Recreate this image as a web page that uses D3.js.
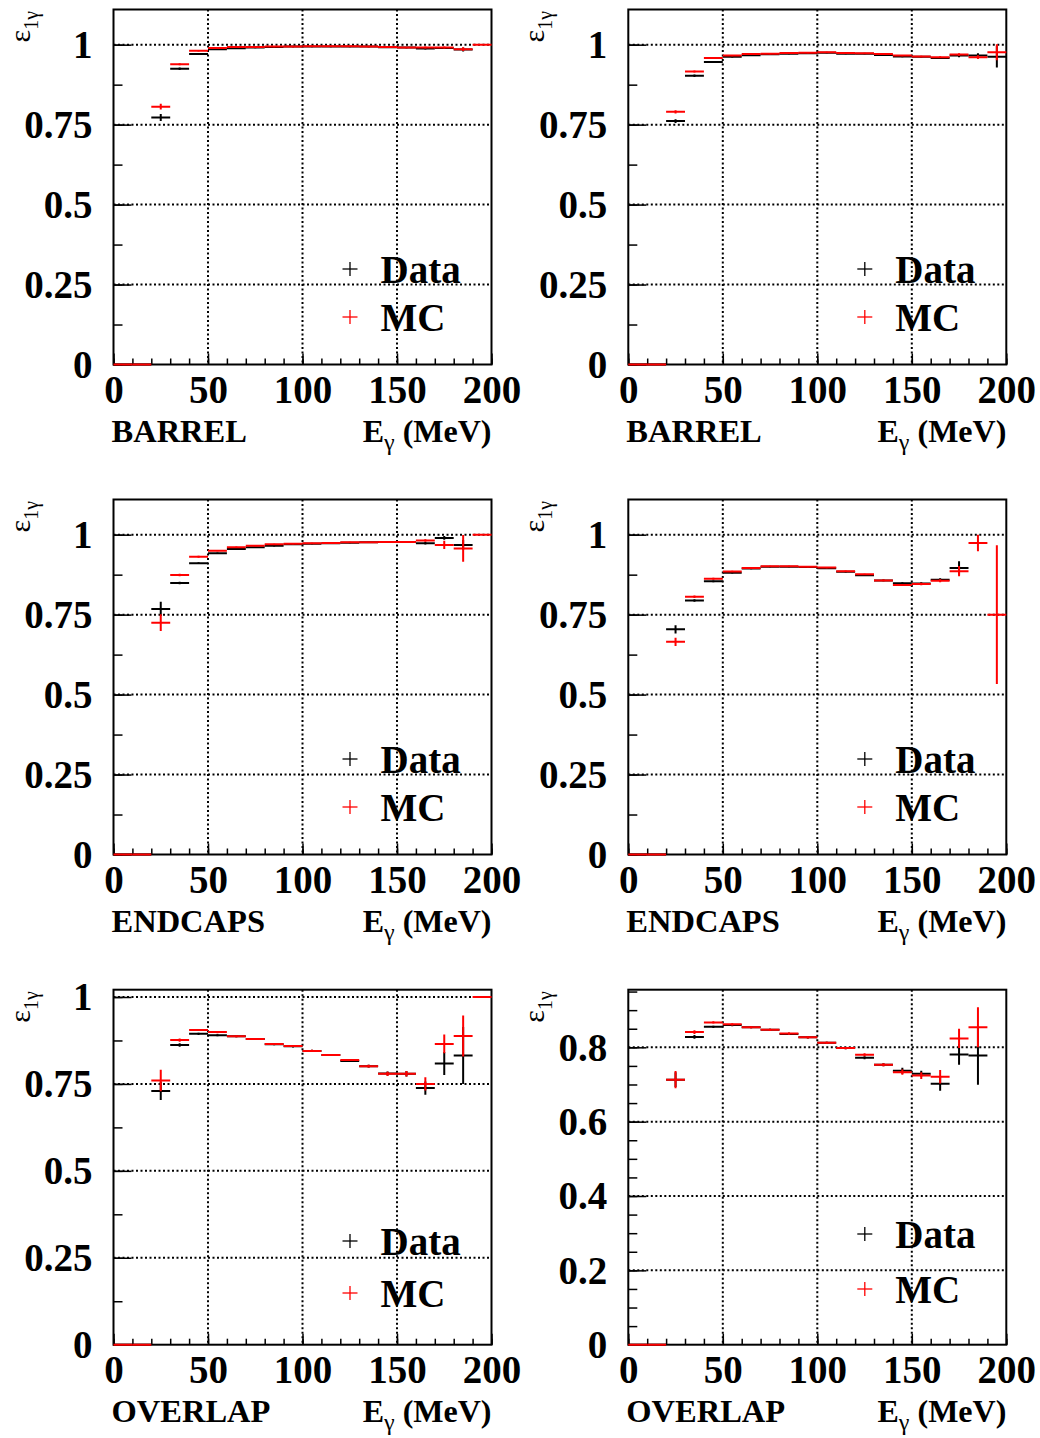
<!DOCTYPE html>
<html>
<head>
<meta charset="utf-8">
<script src="https://cdn.jsdelivr.net/npm/d3@7"></script>
<style>
  body { margin: 0; background: #fff; }
  svg { display: block; }
  text { font-family: "Liberation Serif", "Times New Roman", serif; }
</style>
</head>
<body>
<svg id="chart" width="1040" height="1438"></svg>
<script>
// Photon energy bins (MeV): lower edges, 10 MeV wide
const binLowEdges = [0, 10, 20, 30, 40, 50, 60, 70, 80, 90, 100, 110, 120, 130, 140, 150, 160, 170, 180, 190];
const binWidth = 10;

// Single-photon efficiency per bin, data (black) and MC (red), with errors
const barrelAData    = [0, 0, 0.772, 0.925, 0.971, 0.986, 0.989, 0.991, 0.993, 0.994, 0.994, 0.994, 0.994, 0.994, 0.992, 0.991, 0.988, 0.990, 0.985, null];
const barrelADataErr = [0, 0, 0.011, 0.004, 0.003, 0.002, 0.002, 0.002, 0.002, 0.002, 0.002, 0.002, 0.002, 0.002, 0.002, 0.002, 0.003, 0.003, 0.006, 0];
const barrelAMC      = [0, 0, 0.806, 0.939, 0.981, 0.990, 0.993, 0.993, 0.994, 0.994, 0.995, 0.995, 0.995, 0.994, 0.993, 0.991, 0.991, 0.991, 0.986, 1.0];
const barrelAMCErr   = [0, 0, 0.009, 0.003, 0.002, 0.002, 0.002, 0.002, 0.002, 0.002, 0.002, 0.002, 0.002, 0.002, 0.002, 0.002, 0.003, 0.003, 0.006, 0];

const barrelBData    = [0, 0, 0.761, 0.903, 0.946, 0.962, 0.967, 0.970, 0.972, 0.973, 0.975, 0.972, 0.972, 0.968, 0.963, 0.962, 0.958, 0.966, 0.966, 0.962];
const barrelBDataErr = [0, 0, 0.006, 0.004, 0.003, 0.002, 0.002, 0.002, 0.002, 0.002, 0.002, 0.002, 0.002, 0.002, 0.002, 0.002, 0.003, 0.005, 0.007, 0.033];
const barrelBMC      = [0, 0, 0.790, 0.916, 0.958, 0.966, 0.971, 0.972, 0.974, 0.975, 0.976, 0.974, 0.973, 0.971, 0.966, 0.963, 0.961, 0.969, 0.961, 0.976];
const barrelBMCErr   = [0, 0, 0.005, 0.003, 0.002, 0.002, 0.002, 0.002, 0.002, 0.002, 0.002, 0.002, 0.002, 0.002, 0.002, 0.002, 0.003, 0.004, 0.006, 0.025];

const endcapAData    = [0, 0, 0.768, 0.849, 0.911, 0.942, 0.955, 0.961, 0.965, 0.970, 0.972, 0.973, 0.975, 0.976, 0.977, 0.977, 0.973, 0.990, 0.968, null];
const endcapADataErr = [0, 0, 0.022, 0.004, 0.003, 0.002, 0.002, 0.002, 0.002, 0.002, 0.002, 0.002, 0.002, 0.002, 0.002, 0.003, 0.004, 0.006, 0.015, 0];
const endcapAMC      = [0, 0, 0.725, 0.874, 0.931, 0.950, 0.961, 0.965, 0.970, 0.972, 0.973, 0.974, 0.976, 0.976, 0.977, 0.977, 0.982, 0.968, 0.957, 1.0];
const endcapAMCErr   = [0, 0, 0.026, 0.004, 0.003, 0.002, 0.002, 0.002, 0.002, 0.002, 0.002, 0.002, 0.002, 0.002, 0.002, 0.003, 0.004, 0.013, 0.042, 0];

const endcapBData    = [0, 0, 0.704, 0.794, 0.854, 0.881, 0.894, 0.900, 0.900, 0.899, 0.895, 0.884, 0.873, 0.857, 0.848, 0.847, 0.859, 0.896, null, null];
const endcapBDataErr = [0, 0, 0.013, 0.004, 0.003, 0.002, 0.002, 0.002, 0.002, 0.002, 0.002, 0.002, 0.002, 0.003, 0.003, 0.004, 0.005, 0.021, 0, 0];
const endcapBMC      = [0, 0, 0.665, 0.806, 0.862, 0.885, 0.896, 0.901, 0.901, 0.900, 0.897, 0.886, 0.876, 0.857, 0.843, 0.846, 0.856, 0.886, 0.974, 0.75];
const endcapBMCErr   = [0, 0, 0.013, 0.004, 0.003, 0.002, 0.002, 0.002, 0.002, 0.002, 0.002, 0.002, 0.002, 0.003, 0.003, 0.004, 0.005, 0.016, 0.026, 0.217];

const overlapAData    = [0, 0, 0.730, 0.862, 0.894, 0.890, 0.887, 0.879, 0.864, 0.858, 0.845, 0.833, 0.816, 0.801, 0.780, 0.779, 0.738, 0.809, 0.832, null];
const overlapADataErr = [0, 0, 0.026, 0.005, 0.003, 0.003, 0.003, 0.003, 0.003, 0.003, 0.003, 0.003, 0.003, 0.004, 0.006, 0.008, 0.019, 0.033, 0.082, 0];
const overlapAMC      = [0, 0, 0.760, 0.876, 0.905, 0.899, 0.887, 0.879, 0.865, 0.859, 0.845, 0.833, 0.819, 0.801, 0.779, 0.779, 0.750, 0.865, 0.888, 1.0];
const overlapAMCErr   = [0, 0, 0.031, 0.005, 0.003, 0.003, 0.003, 0.003, 0.003, 0.003, 0.003, 0.003, 0.003, 0.004, 0.006, 0.008, 0.019, 0.027, 0.059, 0];

const overlapBData    = [0, 0, 0.713, 0.828, 0.855, 0.860, 0.854, 0.847, 0.836, 0.827, 0.812, 0.798, 0.772, 0.753, 0.737, 0.729, 0.702, 0.781, 0.778, null];
const overlapBDataErr = [0, 0, 0.020, 0.005, 0.003, 0.003, 0.003, 0.003, 0.003, 0.003, 0.003, 0.003, 0.004, 0.004, 0.008, 0.008, 0.019, 0.028, 0.079, 0];
const overlapBMC      = [0, 0, 0.713, 0.841, 0.867, 0.862, 0.854, 0.847, 0.837, 0.827, 0.812, 0.798, 0.780, 0.753, 0.733, 0.724, 0.721, 0.824, 0.854, null];
const overlapBMCErr   = [0, 0, 0.023, 0.005, 0.003, 0.003, 0.003, 0.003, 0.003, 0.003, 0.003, 0.003, 0.004, 0.004, 0.007, 0.009, 0.018, 0.026, 0.054, 0];

// Axis ticks and labels
const xTickValues = [0, 50, 100, 150, 200];
const xTickLabels = ["0", "50", "100", "150", "200"];
const yTickValuesQuarter = [0, 0.25, 0.5, 0.75, 1];
const yTickLabelsQuarter = ["0", "0.25", "0.5", "0.75", "1"];
const yTickValuesFifth = [0, 0.2, 0.4, 0.6, 0.8];
const yTickLabelsFifth = ["0", "0.2", "0.4", "0.6", "0.8"];
const regionNames = ["BARREL", "BARREL", "ENDCAPS", "ENDCAPS", "OVERLAP", "OVERLAP"];
const legendLabels = ["Data", "MC"];
const seriesColors = ["#000000", "#ff0000"];

// Panel layout
const colLeft = [113.5, 628.3];
const rowTop = [9.5, 499.5, 989.7];
const frameW = 378;
const frameH = 355;

const panels = [
  { region: regionNames[0], col: 0, row: 0, yMax: 1.11, yTicks: yTickValuesQuarter, yLabels: yTickLabelsQuarter, yMinorStep: 0.125,
    data: barrelAData, dataErr: barrelADataErr, mc: barrelAMC, mcErr: barrelAMCErr, legendY: [259.5, 307.5] },
  { region: regionNames[1], col: 1, row: 0, yMax: 1.11, yTicks: yTickValuesQuarter, yLabels: yTickLabelsQuarter, yMinorStep: 0.125,
    data: barrelBData, dataErr: barrelBDataErr, mc: barrelBMC, mcErr: barrelBMCErr, legendY: [259.5, 307.5] },
  { region: regionNames[2], col: 0, row: 1, yMax: 1.11, yTicks: yTickValuesQuarter, yLabels: yTickLabelsQuarter, yMinorStep: 0.125,
    data: endcapAData, dataErr: endcapADataErr, mc: endcapAMC, mcErr: endcapAMCErr, legendY: [259.5, 307.5] },
  { region: regionNames[3], col: 1, row: 1, yMax: 1.11, yTicks: yTickValuesQuarter, yLabels: yTickLabelsQuarter, yMinorStep: 0.125,
    data: endcapBData, dataErr: endcapBDataErr, mc: endcapBMC, mcErr: endcapBMCErr, legendY: [259.5, 307.5] },
  { region: regionNames[4], col: 0, row: 2, yMax: 1.021, yTicks: yTickValuesQuarter, yLabels: yTickLabelsQuarter, yMinorStep: 0.125,
    data: overlapAData, dataErr: overlapADataErr, mc: overlapAMC, mcErr: overlapAMCErr, legendY: [251.3, 303.3] },
  { region: regionNames[5], col: 1, row: 2, yMax: 0.955, yTicks: yTickValuesFifth, yLabels: yTickLabelsFifth, yMinorStep: 0.05,
    data: overlapBData, dataErr: overlapBDataErr, mc: overlapBMC, mcErr: overlapBMCErr, legendY: [244.3, 299.3] }
];

const svg = d3.select("#chart");

panels.forEach((p, i) => {
  const left = colLeft[p.col];
  const top = rowTop[p.row];
  const g = svg.append("g").attr("transform", `translate(${left},${top})`);

  const x = d3.scaleLinear().domain([0, 200]).range([0, frameW]);
  const y = d3.scaleLinear().domain([0, p.yMax]).range([frameH, 0]);

  const clipId = "clip" + i;
  g.append("clipPath").attr("id", clipId)
    .append("rect").attr("x", -2).attr("y", 0).attr("width", frameW + 4).attr("height", frameH + 2);

  // dotted grid at the major ticks
  const grid = g.append("g")
    .attr("stroke", "#000").attr("stroke-width", 2).attr("stroke-dasharray", "2,2.5");
  xTickValues.filter(v => v > 0 && v < 200).forEach(v => {
    grid.append("line").attr("x1", x(v)).attr("x2", x(v)).attr("y1", 0).attr("y2", frameH);
  });
  p.yTicks.filter(v => v > 0 && v < p.yMax).forEach(v => {
    grid.append("line").attr("x1", 0).attr("x2", frameW).attr("y1", y(v)).attr("y2", y(v));
  });

  // minor ticks
  const yMinor = d3.range(0, p.yMax + 1e-9, p.yMinorStep);
  g.append("g").call(d3.axisLeft(y).tickValues(yMinor).tickSize(-9).tickFormat(""))
    .call(a => a.select(".domain").remove())
    .selectAll("line").attr("stroke-width", 1.5);
  const xMinor = d3.range(0, 200.1, 10);
  g.append("g").attr("transform", `translate(0,${frameH})`)
    .call(d3.axisBottom(x).tickValues(xMinor).tickSize(-6).tickFormat(""))
    .call(a => a.select(".domain").remove())
    .selectAll("line").attr("stroke-width", 1.5);

  // major ticks and labels
  const yAxis = g.append("g")
    .call(d3.axisLeft(y).tickValues(p.yTicks).tickSize(-18).tickPadding(21)
      .tickFormat((d, k) => p.yLabels[k]));
  yAxis.select(".domain").remove();
  yAxis.selectAll("line").attr("stroke-width", 1.5);
  yAxis.selectAll("text").attr("font-size", 39).attr("font-weight", "bold")
    .attr("font-family", "Liberation Serif, serif").attr("fill", "#000").attr("dy", "0.33em");

  const xAxis = g.append("g").attr("transform", `translate(0,${frameH})`)
    .call(d3.axisBottom(x).tickValues(xTickValues).tickSize(-11).tickPadding(11)
      .tickFormat((d, k) => xTickLabels[k]));
  xAxis.select(".domain").remove();
  xAxis.selectAll("line").attr("stroke-width", 1.5);
  xAxis.selectAll("text").attr("font-size", 39).attr("font-weight", "bold")
    .attr("font-family", "Liberation Serif, serif").attr("fill", "#000");

  // frame
  g.append("rect").attr("x", 0).attr("y", 0).attr("width", frameW).attr("height", frameH)
    .attr("fill", "none").attr("stroke", "#000").attr("stroke-width", 2);

  // histograms with error crosses: data first, MC on top
  const series = [
    { vals: p.data, errs: p.dataErr, color: seriesColors[0] },
    { vals: p.mc, errs: p.mcErr, color: seriesColors[1] }
  ];
  series.forEach(s => {
    const sg = g.append("g").attr("clip-path", `url(#${clipId})`)
      .attr("stroke", s.color).attr("stroke-width", 2);
    const pts = binLowEdges.map((lo, k) => ({ lo, v: s.vals[k], e: s.errs[k] })).filter(d => d.v !== null);
    sg.selectAll("line.h").data(pts).join("line").attr("class", "h")
      .attr("x1", d => x(d.lo)).attr("x2", d => x(d.lo + binWidth))
      .attr("y1", d => y(d.v)).attr("y2", d => y(d.v));
    sg.selectAll("line.v").data(pts.filter(d => d.e > 0)).join("line").attr("class", "v")
      .attr("x1", d => x(d.lo + binWidth / 2)).attr("x2", d => x(d.lo + binWidth / 2))
      .attr("y1", d => y(d.v - d.e)).attr("y2", d => y(d.v + d.e));
  });

  // legend
  legendLabels.forEach((lab, k) => {
    const ly = p.legendY[k];
    const mx = 236.5;
    g.append("line").attr("x1", mx - 7.5).attr("x2", mx + 7.5).attr("y1", ly).attr("y2", ly)
      .attr("stroke", seriesColors[k]).attr("stroke-width", 1.3);
    g.append("line").attr("x1", mx).attr("x2", mx).attr("y1", ly - 7).attr("y2", ly + 7)
      .attr("stroke", seriesColors[k]).attr("stroke-width", 1.3);
    g.append("text").attr("x", 267).attr("y", ly + 14)
      .attr("font-size", 39).attr("font-weight", "bold").attr("fill", "#000").text(lab);
  });

  // x titles
  g.append("text").attr("x", -2).attr("y", frameH + 77)
    .attr("font-size", 32.5).attr("font-weight", "bold").attr("fill", "#000").text(p.region);
  const xt = g.append("text").attr("x", frameW).attr("y", frameH + 77).attr("text-anchor", "end")
    .attr("font-size", 32).attr("font-weight", "bold").attr("fill", "#000");
  xt.append("tspan").text("E");
  xt.append("tspan").attr("font-size", 24).attr("font-weight", "normal").attr("dy", 8).text("γ");
  xt.append("tspan").attr("dy", -8).text(" (MeV)");

  // y title
  const yt = g.append("text")
    .attr("transform", `translate(${-84},${11 - 9.5}) rotate(-90)`)
    .attr("text-anchor", "end").attr("fill", "#000").attr("font-size", 30);
  yt.append("tspan").text("ε");
  yt.append("tspan").attr("font-size", 20).attr("dy", 8).text("1γ");
});
</script>
</body>
</html>
